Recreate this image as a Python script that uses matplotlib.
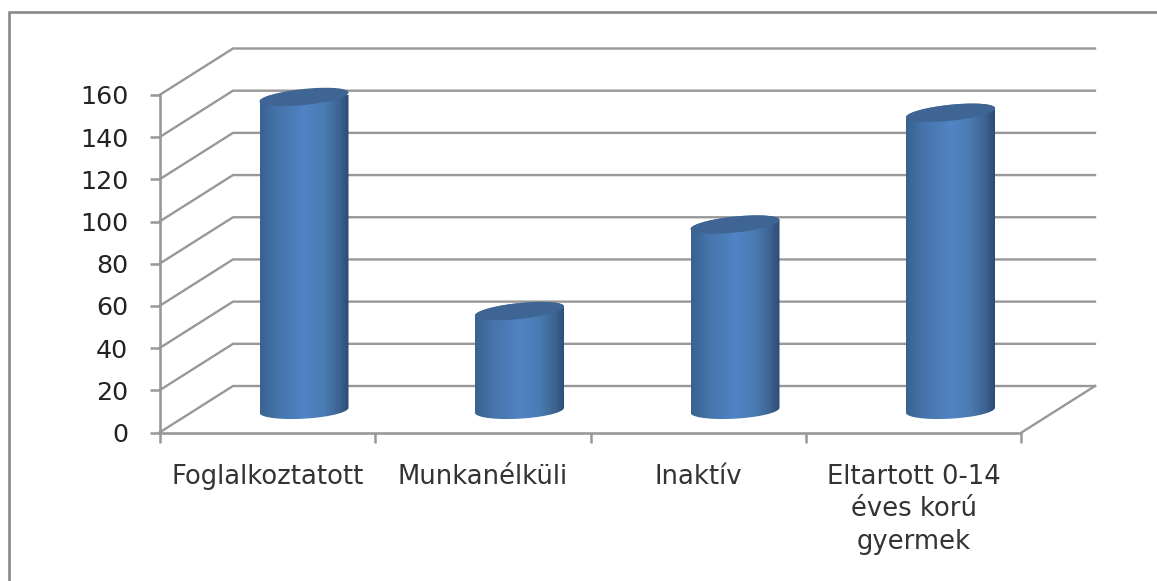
import numpy as np
import matplotlib
matplotlib.use("Agg")
import matplotlib.pyplot as plt
from matplotlib.colors import LinearSegmentedColormap
from matplotlib.patches import Polygon, Rectangle

# adatok
categories = ["Foglalkoztatott", "Munkanélküli", "Inaktív", "Eltartott 0-14\néves korú\ngyermek"]
values = [148.5, 47, 88, 141]
yticks = [0, 20, 40, 60, 80, 100, 120, 140, 160]

W, H = 1157, 581
GRID = "#989898"
PX_CAT = 862 / 4
PX_VAL = 337.5 / 160
# depth of the 3d floor, in data units
depth_x = 73.5 / PX_CAT
depth_y = 46.5 / PX_VAL

plt.rcParams["font.family"] = ["DejaVu Sans"]

fig = plt.figure(figsize=(W / 100, H / 100), dpi=100)
ax = fig.add_axes([159.5 / W, 1 - 432.5 / H, 862 / W, 337.5 / H])
ax.set_xlim(0, 4)
ax.set_ylim(0, 160)
ax.patch.set_visible(False)

# chart border, runs off the picture at the right and bottom
fig.add_artist(Rectangle((9 / W, -0.05), 1.1, 1.05 - 12 / H, transform=fig.transFigure,
                         fill=False, ec="#8a8a8a", lw=1.9))

for s in ["top", "right"]:
    ax.spines[s].set_visible(False)
for s in ["left", "bottom"]:
    ax.spines[s].set_color(GRID)
    ax.spines[s].set_linewidth(1.9)

ax.set_yticks(yticks)
ax.set_xticks(range(5))
ax.set_xticklabels([])
ax.tick_params(axis="y", length=7.5, width=1.8, color=GRID, pad=15, labelsize=18.3, labelcolor="#222222")
ax.tick_params(axis="x", length=7, width=1.8, color=GRID)

# walls
for v in yticks:
    ax.plot([0, depth_x, 4 + depth_x], [v, v + depth_y, v + depth_y], color=GRID, lw=1.7,
            clip_on=False, zorder=1, solid_joinstyle="miter")
ax.plot([4, 4 + depth_x], [0, depth_y], color=GRID, lw=1.7, clip_on=False, zorder=1)

# cylinders
cmap = LinearSegmentedColormap.from_list("cyl", [
    (0.0, "#38628f"), (0.2, "#4674ab"), (0.5, "#5084c4"), (0.72, "#4a7bb3"), (0.9, "#3c628f"), (1.0, "#2b4b73")])
grad = np.linspace(0, 1, 256).reshape(1, -1)
half = 44.5 / PX_CAT
t = np.linspace(0, 2 * np.pi, 121)

for i, v in enumerate(values):
    cx = i + 0.5 + depth_x / 2
    base = depth_y * 0.48
    top = v + base
    # outline: bottom half of lower ellipse + top of the upper edge
    c = np.cos(t[:61])
    s = np.sin(t[:61])
    low_x = cx - half * c
    low_y = base + (-2.5 * c - 8.5 * s) / PX_VAL
    up_x = cx + half * c
    up_y = top + (4.5 * c + 8 * s) / PX_VAL
    outline = np.column_stack([np.r_[low_x, up_x], np.r_[low_y, up_y]])
    body = Polygon(outline, closed=True, transform=ax.transData, fc="none", ec="none")
    ax.add_patch(body)
    im = ax.imshow(grad, extent=[cx - half, cx + half, 0, 175], cmap=cmap, aspect="auto", zorder=3)
    im.set_clip_path(body)
    cap_x = cx + half * np.cos(t)
    cap_y = top + (4.5 * np.cos(t) + 8 * np.sin(t)) / PX_VAL
    ax.fill(cap_x, cap_y, color="#3e6594", lw=0, zorder=4, clip_on=False)

ax.set_xlim(0, 4)
ax.set_ylim(0, 160)
ax.set_aspect("auto")

# category labels
for i, lab in enumerate(categories):
    ax.text(i + 0.5, -15, lab, ha="center", va="top", fontsize=18.6, color="#333333",
            linespacing=1.31, clip_on=False)

fig.savefig("out.png", dpi=100)
